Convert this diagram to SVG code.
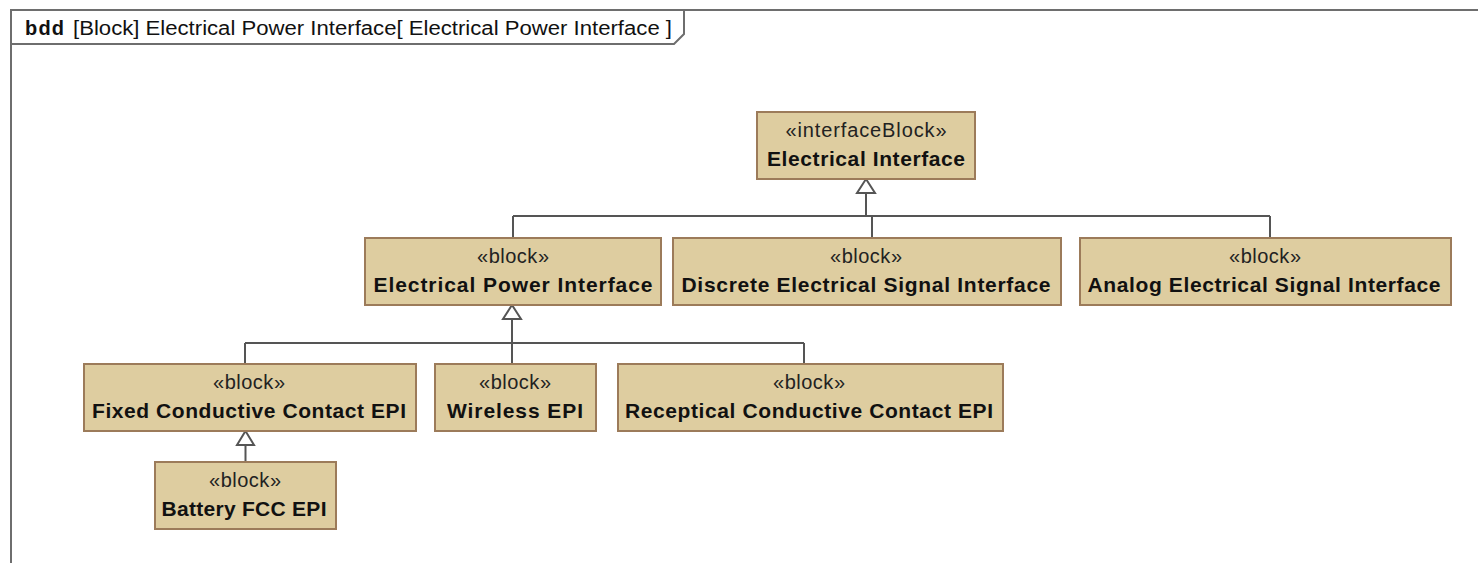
<svg xmlns="http://www.w3.org/2000/svg" width="1478" height="563" viewBox="0 0 1478 563">
<style>
.frame{fill:none;stroke:#6e6e6e;stroke-width:2}
.blk{fill:#DECDA0;stroke:#9C7B5A;stroke-width:2}
.st{font-family:"Liberation Sans",Arial,sans-serif;font-size:20px;fill:#222;text-anchor:middle}
.nm{font-family:"Liberation Sans",Arial,sans-serif;font-size:21px;font-weight:bold;fill:#111;text-anchor:middle}
.ttl{font-family:"Liberation Sans",Arial,sans-serif;font-size:20px;fill:#111}
.ln{fill:none;stroke:#555;stroke-width:2}
.tri{fill:#fff;stroke:#555;stroke-width:2;stroke-linejoin:miter}
</style>
<rect width="1478" height="563" fill="#fff"/>
<g id="frame">
<path class="frame" d="M11,563 V10 H1478"/>
<path class="frame" d="M11,44 H674 L684,34 V10"/>
<text class="ttl" x="25" y="35"><tspan font-weight="bold" textLength="39">bdd</tspan></text>
<text class="ttl" x="73" y="35" textLength="599" lengthAdjust="spacingAndGlyphs">[Block] Electrical Power Interface[ Electrical Power Interface ]</text>
</g>
<g id="connectors">
<path class="ln" d="M866,193 V216 M513,216 H1270 M513,216 V238 M872,216 V238 M1270,216 V238"/>
<path class="tri" d="M866,179 L875,193 L857,193 Z"/>
<path class="ln" d="M512,319 V343 M245,343 H804 M245,343 V364 M512,343 V364 M804,343 V364"/>
<path class="tri" d="M512,305 L521,319 L503,319 Z"/>
<path class="ln" d="M245.5,445 V462"/>
<path class="tri" d="M245.5,431 L254,445 L237,445 Z"/>
</g>
<g id="electrical-interface">
<rect class="blk" x="757" y="112" width="218" height="67"/>
<text class="st" x="866" y="137" textLength="161">«interfaceBlock»</text>
<text class="nm" x="866" y="166" textLength="198">Electrical Interface</text>
</g>
<g id="electrical-power-interface">
<rect class="blk" x="365" y="238" width="296" height="67"/>
<text class="st" x="513" y="263" textLength="72">«block»</text>
<text class="nm" x="513" y="292" textLength="279">Electrical Power Interface</text>
</g>
<g id="discrete-electrical-signal-interface">
<rect class="blk" x="673" y="238" width="388" height="67"/>
<text class="st" x="866" y="263" textLength="72">«block»</text>
<text class="nm" x="866" y="292" textLength="369">Discrete Electrical Signal Interface</text>
</g>
<g id="analog-electrical-signal-interface">
<rect class="blk" x="1080" y="238" width="371" height="67"/>
<text class="st" x="1265" y="263" textLength="72">«block»</text>
<text class="nm" x="1264" y="292" textLength="353">Analog Electrical Signal Interface</text>
</g>
<g id="fixed-conductive-contact-epi">
<rect class="blk" x="84" y="364" width="332" height="67"/>
<text class="st" x="249" y="389" textLength="72">«block»</text>
<text class="nm" x="249" y="418" textLength="314">Fixed Conductive Contact EPI</text>
</g>
<g id="wireless-epi">
<rect class="blk" x="435" y="364" width="161" height="67"/>
<text class="st" x="515" y="389" textLength="72">«block»</text>
<text class="nm" x="515" y="418" textLength="136">Wireless EPI</text>
</g>
<g id="receptical-conductive-contact-epi">
<rect class="blk" x="618" y="364" width="385" height="67"/>
<text class="st" x="809" y="389" textLength="72">«block»</text>
<text class="nm" x="809" y="418" textLength="368">Receptical Conductive Contact EPI</text>
</g>
<g id="battery-fcc-epi">
<rect class="blk" x="155" y="462" width="181" height="67"/>
<text class="st" x="245" y="487" textLength="72">«block»</text>
<text class="nm" x="244" y="516" textLength="165">Battery FCC EPI</text>
</g>
</svg>
